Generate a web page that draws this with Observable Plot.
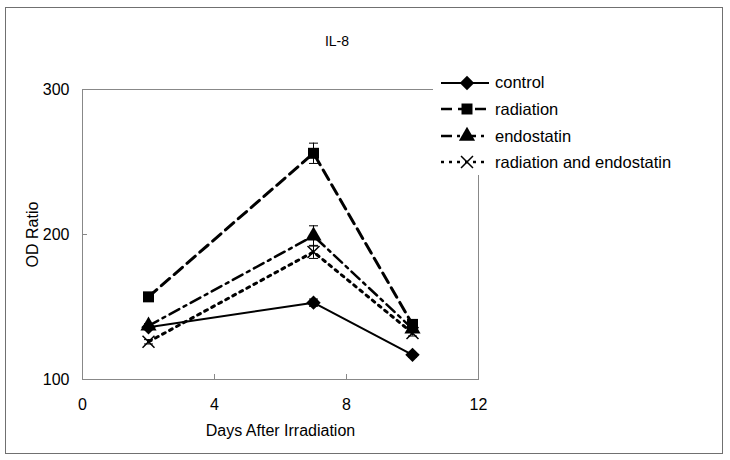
<!DOCTYPE html>
<html><head><meta charset="utf-8">
<script src="https://cdn.jsdelivr.net/npm/d3@7"></script>
<script src="https://cdn.jsdelivr.net/npm/@observablehq/plot@0.6"></script>
<style>
body{margin:0;background:#fff;}
#fig{position:relative;width:730px;height:460px;font-family:"Liberation Sans",Arial,sans-serif;color:#000;overflow:hidden}
#chart{position:absolute;left:0;top:0}
#border{position:absolute;left:5px;top:7px;width:716px;height:445px;border:1.5px solid #707070;pointer-events:none}
#title{position:absolute;left:0;width:674px;text-align:center;top:33px;font-size:14px}
#legend{position:absolute;left:433px;top:68px;width:270px;height:107px;background:#fff}
.row{position:absolute;left:8px;height:22px;display:flex;align-items:center;font-size:16.5px;white-space:nowrap}
.row svg{margin-right:4px}
</style>
</head><body>
<div id="fig">
  <div id="chart"></div>
  <div id="border"></div>
  <div id="title">IL-8</div>
  <div id="legend"></div>
</div>
<script>
// ---- data ----
const days = [2, 7, 10];
const seriesNames = ["control", "radiation", "endostatin", "radiation and endostatin"];
const control = [136, 153, 117];
const controlErr = [1.5, 2.5, 1.5];
const radiation = [157, 256, 138];
const radiationErr = [1.5, 7, 2];
const endostatin = [137, 199, 135];
const endostatinErr = [1.5, 7, 2];
const radEndo = [126, 188, 132];
const radEndoErr = [1.5, 4.5, 2];
const xTicks = [0, 4, 8, 12];
const yTicks = [100, 200, 300];
const titleText = "IL-8";
const xLabel = "Days After Irradiation";
const yLabel = "OD Ratio";

// ---- styles ----
const values = [control, radiation, endostatin, radEndo];
const errs = [controlErr, radiationErr, endostatinErr, radEndoErr];
const styles = [
  {dash: null, width: 2, symbol: "diamond2", r: 6.5, fill: "black"},
  {dash: "11,6", width: 3, symbol: "square", r: 6.2, fill: "black"},
  {dash: "11,5,3,5", width: 2.5, symbol: "triangle", r: 6, fill: "black"},
  {dash: "3,5", width: 3, symbol: "times", r: 5.5, fill: "none"}
];

const rows = seriesNames.flatMap((s, i) => days.map((d, j) => ({series: s, idx: i, day: d, value: values[i][j], err: errs[i][j]})));

const capSymbol = {draw(context, size) { const w = Math.sqrt(size / Math.PI); context.moveTo(-w, 0); context.lineTo(w, 0); }};

const seriesMarks = seriesNames.flatMap((s, i) => {
  const data = rows.filter(d => d.idx === i);
  const st = styles[i];
  return [
    Plot.line(data, {x: "day", y: "value", stroke: "black", strokeWidth: st.width, strokeDasharray: st.dash}),
    Plot.ruleX(data, {x: "day", y1: d => d.value - d.err, y2: d => d.value + d.err, stroke: "black", strokeWidth: 1}),
    Plot.dot(data, {x: "day", y: d => d.value + d.err, symbol: capSymbol, r: 4.5, stroke: "black", strokeWidth: 1}),
    Plot.dot(data, {x: "day", y: d => d.value - d.err, symbol: capSymbol, r: 4.5, stroke: "black", strokeWidth: 1}),
    Plot.dot(data, {x: "day", y: "value", symbol: st.symbol, r: st.r, fill: st.fill, stroke: "black", strokeWidth: st.fill === "none" ? 1.5 : 0})
  ];
});

const chart = Plot.plot({
  width: 730, height: 460,
  marginLeft: 82, marginRight: 252, marginTop: 89, marginBottom: 81,
  style: {fontFamily: "Liberation Sans, Arial, sans-serif", fontSize: "16px", background: "transparent", color: "black"},
  x: {domain: [0, 12]},
  y: {domain: [100, 300]},
  marks: [
    Plot.frame({stroke: "#888"}),
    Plot.axisX({ticks: xTicks, tickSize: -5, tickPadding: 24, stroke: "#888", fill: "black", fontSize: 16, label: xLabel, labelAnchor: "center", labelOffset: 56, labelArrow: "none"}),
    Plot.axisY({ticks: yTicks, tickSize: -5, tickPadding: 18, stroke: "#888", fill: "black", fontSize: 16, label: yLabel, labelAnchor: "center", labelOffset: 56, labelArrow: "none"}),
    ...seriesMarks
  ]
});
document.getElementById("chart").appendChild(chart);
document.getElementById("title").textContent = titleText;

// ---- legend ----
const legend = d3.select("#legend");
const rowTops = [14.7, 41, 68, 94.3];
seriesNames.forEach((s, i) => {
  const st = styles[i];
  const row = legend.append("div").attr("class", "row").style("top", (rowTops[i] - 11) + "px");
  const svg = row.append("svg").attr("width", 50).attr("height", 22);
  svg.append("line").attr("x1", 0).attr("x2", 48).attr("y1", 11).attr("y2", 11)
    .attr("stroke", "black").attr("stroke-width", Math.min(st.width, 2.5))
    .attr("stroke-dasharray", st.dash);
  const sym = {diamond2: d3.symbolDiamond2, square: d3.symbolSquare, triangle: d3.symbolTriangle, times: d3.symbolTimes}[st.symbol];
  svg.append("path").attr("transform", "translate(26,11)")
    .attr("d", d3.symbol(sym, Math.PI * st.r * st.r)())
    .attr("fill", st.fill).attr("stroke", "black").attr("stroke-width", st.fill === "none" ? 1.5 : 0);
  row.append("span").text(s);
});
</script>
</body></html>
